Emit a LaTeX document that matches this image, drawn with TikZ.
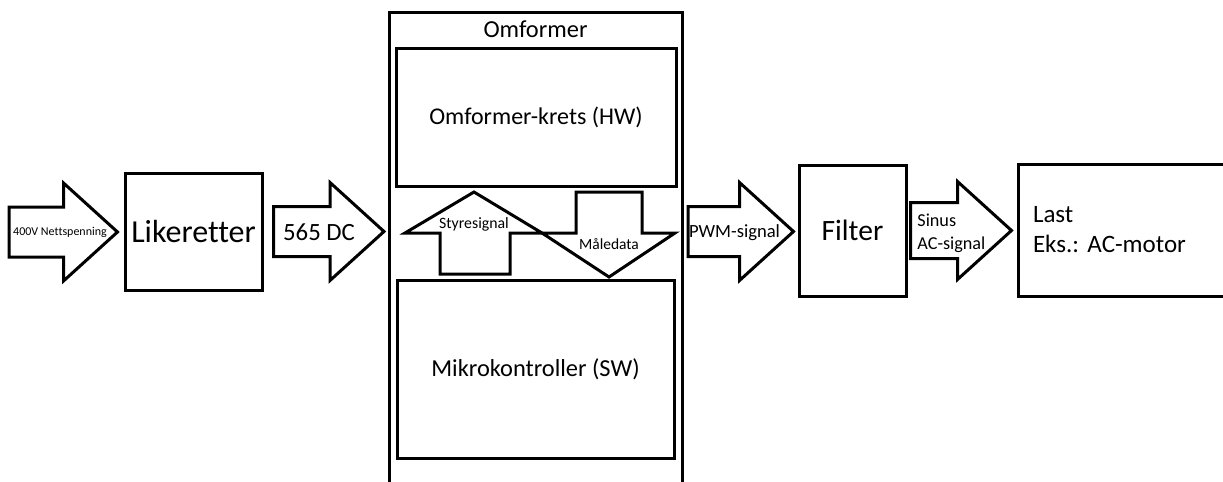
\documentclass[tikz,border=0pt]{standalone}
\usepackage{fontspec}
\setmainfont{Carlito}[Ligatures=NoCommon]
\frenchspacing
\usepackage{tikz}
\usetikzlibrary{positioning,calc}

\tikzset{
  box/.style={draw, line width=1.5pt, inner sep=0pt},
  fat/.style={draw, line width=1.5pt, line join=miter},
  lbl/.style={inner sep=0pt}
}
% horizontal block arrow: [shaft half width]{tail}{tip}
\newcommand{\fatarrow}[3][12.5pt]{%
  \draw[fat] let \p1=(#2), \p2=(#3) in
    (\x1,\y1-#1) -- (\x2-27pt,\y1-#1) -- (\x2-27pt,\y1-24.5pt) -- (\x2,\y1)
    -- (\x2-27pt,\y1+24.5pt) -- (\x2-27pt,\y1+#1) -- (\x1,\y1+#1) -- cycle;}

\begin{document}
\begin{tikzpicture}[x=0.5pt, y=-0.5pt]
\useasboundingbox (0,0) rectangle (1223,482);

\node[box, name=like, minimum width=68.5pt, minimum height=58.5pt, font=\fontsize{16}{19}\selectfont] at (193.5,231.5) {Likeretter};

\node[box, name=omf, minimum width=146.5pt, minimum height=239pt] at (536,251) {};
\node[lbl, name=omflbl, font=\fontsize{12.2}{14}\selectfont] at (535.5,29) {Omformer};
\node[box, name=hw, minimum width=140pt, minimum height=69pt, font=\fontsize{12}{14}\selectfont] at (536,117) {Omformer-krets (HW)};
\node[box, name=mk, minimum width=138.5pt, minimum height=89pt, font=\fontsize{12.2}{14}\selectfont] at (535.5,369) {Mikrokontroller (SW)};

\node[box, name=filt, minimum width=53.5pt, minimum height=65.5pt, font=\fontsize{14.75}{17}\selectfont] at (852.5,230.5) {Filter};
\node[box, name=last, minimum width=111pt, minimum height=66pt, inner xsep=7.5pt, text width=96pt, align=left, font=\fontsize{12.5}{15}\selectfont] at (1129,230) {Last\\Eks.: AC-motor};

%% arrows between the blocks
\coordinate (in) at (9,232);
\fatarrow{in}{$(like.west)+(-3pt,0)$}
\fatarrow{$(like.east)+(5pt,0)$}{$(like.east -| omf.west)+(-2pt,0)$}
\fatarrow{$(omf.east |- like.east)+(2pt,0)$}{$(filt.west)+(-2pt,0)$}
\fatarrow[14pt]{$(filt.east)+(1.5pt,0)$}{$(last.west)+(-2.5pt,0)$}

\node[lbl, name=nett, font=\fontsize{6}{7}\selectfont] at (60,232) {400V Nettspenning};
\node[lbl, name=dc, font=\fontsize{12.4}{14}\selectfont] at (319,232) {565 DC};
\node[lbl, name=pwm, font=\fontsize{9.3}{11}\selectfont] at (734.5,233) {PWM-signal};
\node[lbl, name=sinus, anchor=west, align=left, font=\fontsize{9.1}{11.5}\selectfont] at (917,233.5) {Sinus\\AC-signal};

%% signals inside the converter
\draw[fat] (474,192) -- (542,233) -- (510,233) -- (510,274) -- (440,274) -- (440,233) -- (405,233) -- cycle;
\draw[fat] (576,192) -- (642,192) -- (642,233) -- (675,233) -- (609,277) -- (542,233) -- (576,233) -- cycle;
\node[lbl, name=styr, font=\fontsize{7.9}{9}\selectfont] at (474,224) {Styresignal};
\node[lbl, name=maal, font=\fontsize{7.75}{9}\selectfont] at (609,244) {Måledata};
\end{tikzpicture}
\end{document}
